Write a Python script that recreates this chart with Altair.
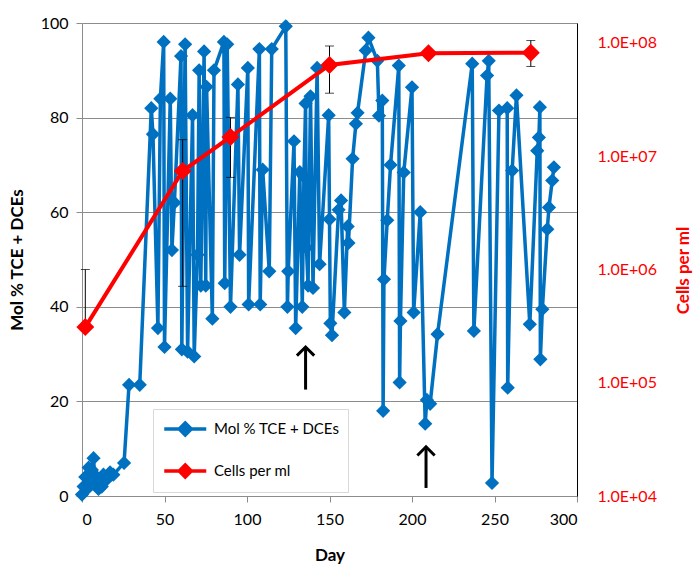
import altair as alt
import pandas as pd

# Mol % TCE + DCEs measurements (day, value), in sampling order
mol_day = [0, 1, 2, 3, 4, 5, 6, 7, 8, 9, 10, 11, 12, 13, 15, 17, 19,
           25.5, 28.5, 35, 42, 43, 46, 47.5, 49.5, 50, 53.5, 54.5, 56,
           60, 60.5, 62.5, 64, 67, 68, 70, 71, 72, 74, 75, 75.5, 79, 80,
           86, 86.5, 88, 90, 94.5, 95.5, 100.5, 101, 107.5, 108, 109.5,
           113.5, 115, 123.5, 124.5, 125, 128.5, 129.5, 132, 133.5, 134.5,
           135.5, 136, 137, 138.5, 140, 142.5, 144, 149.5, 150, 150.5,
           151.5, 155.5, 157, 159, 161, 161.5, 164, 166, 167, 172, 173.6,
           179, 180, 182, 182.5, 183, 185, 187, 192, 192.5, 193, 195, 200,
           201, 205, 208, 209, 211, 215.5, 236.5, 237.5, 245.5, 246.5,
           248.5, 252.7, 257.7, 258, 260.7, 263.3, 271.4, 275.9, 276.9,
           277.5, 277.8, 279, 282, 283, 285, 286]
mol_pct = [0.3, 2.0, 4.0, 1.5, 6.0, 3.0, 5.5, 8.0, 2.5, 4.0, 1.5, 3.5, 2.0,
           4.5, 3.5, 5.0, 4.5,
           7.0, 23.5, 23.5, 82, 76.5, 35.5, 84, 96, 31.5, 84, 52, 62,
           93, 31, 95.5, 30.5, 80.5, 29.5, 51, 90, 44.5, 94, 44.5, 86.5, 37.5, 90,
           96, 45, 95.5, 40, 87, 51, 90.5, 40.5, 94.5, 40.5, 69,
           47.5, 94.5, 99.3, 40, 47.5, 75, 35.5, 68.5, 40, 67.5,
           83, 52.5, 44.5, 84.5, 44, 90.5, 49, 80.5, 58.5, 36.5,
           34, 60.5, 62.5, 38.8, 57, 53.5, 71.3, 78.7, 81, 94.2, 96.9,
           92, 80.4, 83.6, 18, 45.8, 58.3, 70, 91, 24, 37, 68.4, 86.4,
           38.8, 60, 15.3, 20.3, 19.5, 34.2, 91.4, 34.9, 88.9, 92,
           2.75, 81.5, 82, 22.9, 68.8, 84.7, 36.3, 73, 75.8,
           82.2, 28.9, 39.5, 56.4, 61, 66.7, 69.5]

# Cell counts (cells per ml)
cell_day = [2, 61, 90, 150, 210, 272]
cells_per_ml = [3.1e5, 7.4e6, 1.48e7, 6.4e7, 8.1e7, 8.2e7]

# Error bars on the cell counts
err_day = [2, 61, 90, 150, 272]
err_lo = [3.1e5, 7.1e5, 6.5e6, 3.6e7, 6.2e7]
err_hi = [1.0e6, 1.4e7, 2.2e7, 9.4e7, 1.05e8]
cap_day = [2, 61, 61, 90, 90, 150, 150, 272, 272]
cap_val = [1.0e6, 7.1e5, 1.4e7, 6.5e6, 2.2e7, 3.6e7, 9.4e7, 6.2e7, 1.05e8]

# Annotation arrows (day, base and tip in Mol %)
arrow_day = [135.5, 208.5]
arrow_from = [22.5, 1.7]
arrow_to = [31.5, 10.4]

SERIES = ["Mol % TCE + DCEs", "Cells per ml"]
COLORS = ["#0070C0", "#FF0000"]
FONT = "Lato"
GRID = "#8C8C8C"

mol_df = pd.DataFrame({"day": mol_day, "value": mol_pct,
                       "seq": list(range(len(mol_day))), "series": SERIES[0]})
cell_df = pd.DataFrame({"day": cell_day, "value": cells_per_ml, "series": SERIES[1]})
err_df = pd.DataFrame({"day": err_day, "lo": err_lo, "hi": err_hi})
cap_df = pd.DataFrame({"day": cap_day, "val": cap_val})
arrow_df = pd.DataFrame({"day": arrow_day, "base": arrow_from, "tip": arrow_to})

x_enc = alt.X(
    "day:Q",
    scale=alt.Scale(domain=[0, 300], nice=False, zero=False),
    axis=alt.Axis(title="Day", values=[0, 50, 100, 150, 200, 250, 300], grid=False,
                  domainColor=GRID, tickColor=GRID, tickSize=6, labelPadding=9,
                  titlePadding=20),
)


def y_left(field):
    return alt.Y(
        field,
        scale=alt.Scale(domain=[0, 100], nice=False, zero=False),
        axis=alt.Axis(title="Mol % TCE + DCEs", values=[0, 20, 40, 60, 80, 100],
                      grid=True, gridColor=GRID, domainColor=GRID, tickColor=GRID,
                      tickSize=6, labelPadding=8, titlePadding=14),
    )


def y_right(field):
    return alt.Y(
        field,
        scale=alt.Scale(type="log", domain=[1e4, 1.5e8], nice=False),
        axis=alt.Axis(orient="right", title="Cells per ml",
                      values=[1e4, 1e5, 1e6, 1e7, 1e8],
                      labelExpr="'1.0E+0' + round(log(datum.value) / LN10)",
                      labelColor="#FF0000", titleColor="#FF0000", titleAngle=270,
                      titleY=247, grid=False, ticks=False, domainColor="black",
                      labelPadding=20, titlePadding=36),
    )


legend = alt.Legend(
    title=None, orient="none", legendX=71, legendY=386,
    symbolType="M-0.875,0H3.325M1.225,-0.6L1.825,0L1.225,0.6L0.625,0Z",
    symbolSize=400, symbolStrokeWidth=3.5,
    labelFont=FONT, labelFontSize=15, labelColor="black", labelOffset=29,
    labelExpr="datum.label + '\u00a0\u00a0\u00a0\u00a0\u00a0\u00a0\u00a0'",
    rowPadding=16, padding=8, fillColor="white", strokeColor="#D9D9D9",
)
color_scale = alt.Scale(domain=SERIES, range=COLORS)
fill_enc = alt.Fill("series:N", scale=color_scale, legend=legend)
stroke_enc = alt.Stroke("series:N", scale=color_scale, legend=legend)

# Left axis: Mol % series and arrows
mol_line = alt.Chart(mol_df).mark_line(color=COLORS[0], strokeWidth=3.5).encode(
    x=x_enc, y=y_left("value:Q"), order=alt.Order("seq:Q"))
mol_pts = alt.Chart(mol_df).mark_point(shape="diamond", filled=True, size=130, opacity=1).encode(
    x=x_enc, y=y_left("value:Q"), fill=fill_enc, stroke=stroke_enc)
arrow_shaft = alt.Chart(arrow_df).mark_rule(color="black", strokeWidth=3).encode(
    x=x_enc, y=y_left("base:Q"), y2="tip:Q")
arrow_head = alt.Chart(arrow_df).mark_point(
    shape="M-1,1L0,0L1,1", filled=False, size=300, strokeWidth=3, color="black",
    opacity=1).encode(x=x_enc, y=y_left("tip:Q"))
left = alt.layer(mol_line, mol_pts, arrow_shaft, arrow_head)

# Right axis: cell counts with error bars
cell_line = alt.Chart(cell_df).mark_line(color=COLORS[1], strokeWidth=4).encode(
    x=x_enc, y=y_right("value:Q"))
err_rule = alt.Chart(err_df).mark_rule(color="black", strokeWidth=1).encode(
    x=x_enc, y=y_right("lo:Q"), y2="hi:Q")
err_cap = alt.Chart(cap_df).mark_tick(color="black", orient="horizontal", size=9,
                                      thickness=1).encode(x=x_enc, y=y_right("val:Q"))
cell_pts = alt.Chart(cell_df).mark_point(shape="diamond", filled=True, size=230, opacity=1).encode(
    x=x_enc, y=y_right("value:Q"), fill=fill_enc, stroke=stroke_enc)
right = alt.layer(cell_line, err_rule, err_cap, cell_pts)

chart = (
    alt.layer(left, right)
    .resolve_scale(y="independent")
    .properties(width=495, height=473, autosize="none",
                padding={"left": 82, "top": 23, "right": 122, "bottom": 71},
                background="white")
    .configure_view(strokeWidth=0)
    .configure_axis(labelFont=FONT, labelFontSize=16, labelColor="black",
                    titleFont=FONT, titleFontSize=17, titleFontWeight="bold",
                    titleColor="black")
)

chart.save("out.html", embed_options={"renderer": "svg", "actions": False})
